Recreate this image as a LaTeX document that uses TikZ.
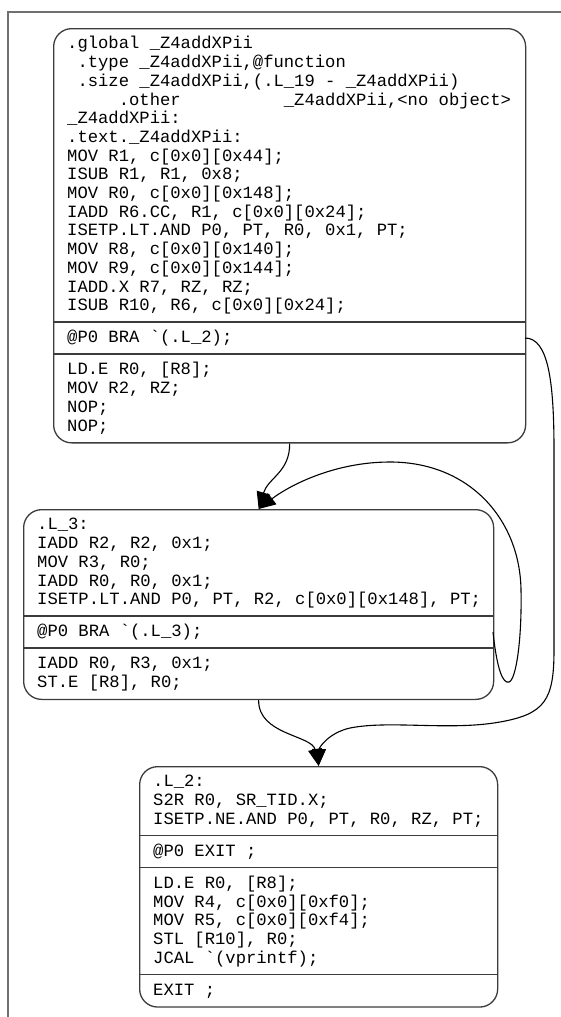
\documentclass[tikz,border=0pt]{standalone}
\usepackage{fontspec}
\setmonofont{Liberation Mono}
\usetikzlibrary{arrows.meta}
\definecolor{boxgray}{HTML}{3C3C3C}
\definecolor{framegray}{HTML}{707070}
\newcommand\codeln[5]{\node[code] (#1) at (#2,{#3+20.95+18.7*#4}) {#5};}
\begin{document}
\begin{tikzpicture}[x=1pt,y=-1pt,
  code/.style={font=\ttfamily\fontsize{17.2}{18.7}\selectfont, inner sep=0pt, anchor=base west, text=black},
  blk/.style={draw=boxgray, line width=1.3pt, rounded corners=18pt, inner sep=0pt, anchor=north west},
  divider/.style={draw=boxgray, line width=1.3pt},
  edge/.style={draw=black, line width=1.1pt, -{Triangle[length=17pt,width=14pt]}},
  frame/.style={draw=framegray, line width=2pt}]
\useasboundingbox (0,0) rectangle (561,1017);
% outer frame
\draw[frame] (8,1017) -- (8,12) -- (561,12);

% ---------- block 1 ----------
\node[blk, minimum width=472pt, minimum height=414.2pt] (b1) at (53,28) {};
\draw[divider] (53,321.9) -- (525,321.9);
\draw[divider] (53,354) -- (525,354);
\codeln{t1a}{67}{28}{0}{.global \_Z4addXPii}
\codeln{t1b}{77.32}{28}{1}{.type \_Z4addXPii,@function}
\codeln{t1c}{77.32}{28}{2}{.size \_Z4addXPii,(.L\_19 - \_Z4addXPii)}
\codeln{t1d}{118.6}{28}{3}{.other}
\codeln{t1e}{283.7}{28}{3}{\_Z4addXPii,<no object>}
\codeln{t1f}{67}{28}{4}{\_Z4addXPii:}
\codeln{t1g}{67}{28}{5}{.text.\_Z4addXPii:}
\codeln{t1h}{67}{28}{6}{MOV R1, c[0x0][0x44];}
\codeln{t1i}{67}{28}{7}{ISUB R1, R1, 0x8;}
\codeln{t1j}{67}{28}{8}{MOV R0, c[0x0][0x148];}
\codeln{t1k}{67}{28}{9}{IADD R6.CC, R1, c[0x0][0x24];}
\codeln{t1l}{67}{28}{10}{ISETP.LT.AND P0, PT, R0, 0x1, PT;}
\codeln{t1m}{67}{28}{11}{MOV R8, c[0x0][0x140];}
\codeln{t1n}{67}{28}{12}{MOV R9, c[0x0][0x144];}
\codeln{t1o}{67}{28}{13}{IADD.X R7, RZ, RZ;}
\codeln{t1p}{67}{28}{14}{ISUB R10, R6, c[0x0][0x24];}
\codeln{t1q}{67}{321.9}{0}{@P0 BRA \textasciigrave(.L\_2);}
\codeln{t1r}{67}{354}{0}{LD.E R0, [R8];}
\codeln{t1s}{67}{354}{1}{MOV R2, RZ;}
\codeln{t1t}{67}{354}{2}{NOP;}
\codeln{t1u}{67}{354}{3}{NOP;}

% ---------- block L_3 ----------
\node[blk, minimum width=470pt, minimum height=189.75pt] (l3) at (23,509) {};
\draw[divider] (23,615.9) -- (493,615.9);
\draw[divider] (23,647.95) -- (493,647.95);
\codeln{t3a}{37}{509}{0}{.L\_3:}
\codeln{t3b}{37}{509}{1}{IADD R2, R2, 0x1;}
\codeln{t3c}{37}{509}{2}{MOV R3, R0;}
\codeln{t3d}{37}{509}{3}{IADD R0, R0, 0x1;}
\codeln{t3e}{37}{509}{4}{ISETP.LT.AND P0, PT, R2, c[0x0][0x148], PT;}
\codeln{t3f}{37}{615.9}{0}{@P0 BRA \textasciigrave(.L\_3);}
\codeln{t3g}{37}{647.95}{0}{IADD R0, R3, 0x1;}
\codeln{t3h}{37}{647.95}{1}{ST.E [R8], R0;}

% ---------- block L_2 ----------
\node[blk, minimum width=358pt, minimum height=240.4pt] (l2) at (139,766) {};
\draw[divider] (139,835.5) -- (497,835.5);
\draw[divider] (139,867.55) -- (497,867.55);
\draw[divider] (139,974.35) -- (497,974.35);
\codeln{t2a}{153}{766}{0}{.L\_2:}
\codeln{t2b}{153}{766}{1}{S2R R0, SR\_TID.X;}
\codeln{t2c}{153}{766}{2}{ISETP.NE.AND P0, PT, R0, RZ, PT;}
\codeln{t2d}{153}{835.5}{0}{@P0 EXIT ;}
\codeln{t2e}{153}{867.55}{0}{LD.E R0, [R8];}
\codeln{t2f}{153}{867.55}{1}{MOV R4, c[0x0][0xf0];}
\codeln{t2g}{153}{867.55}{2}{MOV R5, c[0x0][0xf4];}
\codeln{t2h}{153}{867.55}{3}{STL [R10], R0;}
\codeln{t2i}{153}{867.55}{4}{JCAL \textasciigrave(vprintf);}
\codeln{t2j}{153}{974.35}{0}{EXIT ;}

% ports
\coordinate (b1port) at (525,338);
\coordinate (l3port) at (493,632);

% ---------- edges ----------
\draw[edge] (b1.south) .. controls (290,472) and (268,478) .. (l3.north);
\draw[edge] (l3port) .. controls (497,670) and (503,684) .. (509,682)
  .. controls (516,680) and (522,640) .. (521,590)
  .. controls (520,520) and (470,462) .. (390,462)
  .. controls (335,462) and (290,485) .. (l3.north);
\draw[edge] (b1port) .. controls (548,338) and (554,380) .. (554,450)
  -- (554,650)
  .. controls (554,700) and (545,714) .. (500,722)
  .. controls (450,731) and (390,720) .. (350,728)
  .. controls (328,733) and (319,748) .. (l2.north);
\draw[edge] (l3.south) .. controls (258,735) and (312,735) .. (l2.north);
\end{tikzpicture}
\end{document}
